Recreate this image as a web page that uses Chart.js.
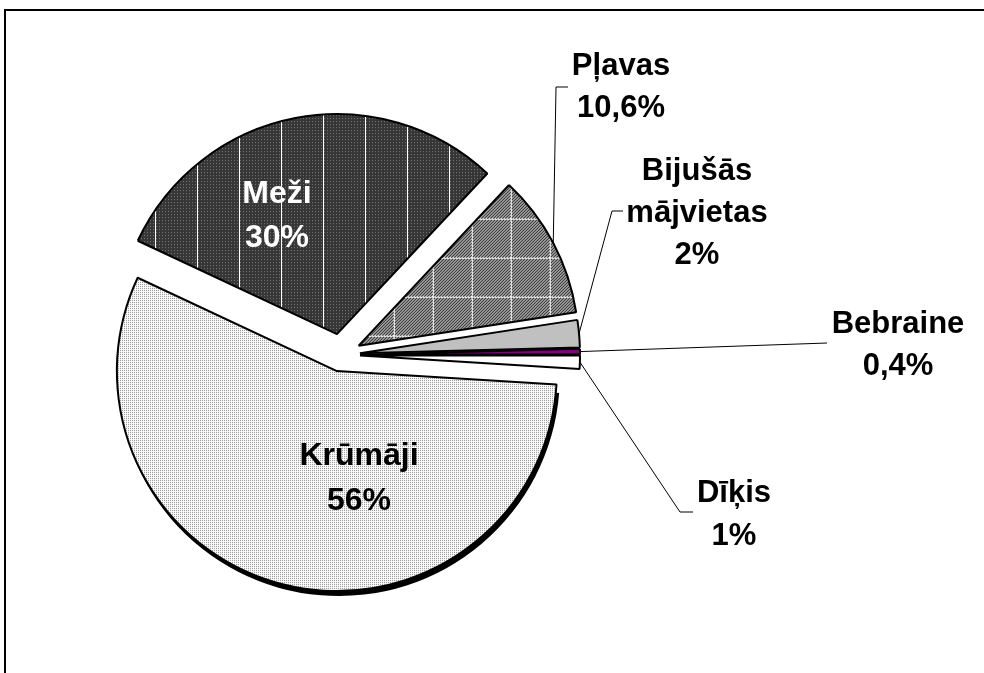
<!DOCTYPE html>
<html>
<head>
<meta charset="utf-8">
<script src="https://cdn.jsdelivr.net/npm/chart.js@4.4.0/dist/chart.umd.min.js"></script>
<style>
  html, body { margin: 0; padding: 0; background: #fff; }
  #wrap { position: relative; width: 984px; height: 673px; overflow: hidden; }
  #frame { position: absolute; left: 4px; top: 9px; width: 1000px; height: 700px;
           border-left: 2px solid #000; border-top: 2px solid #000; box-sizing: border-box; }
  canvas { position: absolute; left: 0; top: 0; }
</style>
</head>
<body>
<div id="wrap">
  <div id="frame"></div>
  <canvas id="c" width="984" height="673"></canvas>
</div>
<script>
// ---- data ----
const categories = ["Krūmāji", "Meži", "Pļavas", "Bijušās mājvietas", "Bebraine", "Dīķis"];
const values = [56, 30, 10.6, 2, 0.4, 1];
const valueLabels = ["56%", "30%", "10,6%", "2%", "0,4%", "1%"];
const labelLines = [["Krūmāji"], ["Meži"], ["Pļavas"], ["Bijušās", "mājvietas"], ["Bebraine"], ["Dīķis"]];

// ---- layout / style (not data) ----
const explodePx = [16.6, 21.3, 20, 19, 19, 19];
const labelLayout = [
  { x: 359, base: [465, 510], size: 32, color: "#000", leader: null },
  { x: 277, base: [203, 247], size: 32, color: "#fff", leader: null },
  { x: 621, base: [75, 117], size: 31, color: "#000", leader: [[556, 87], [568, 87]] },
  { x: 697, base: [180, 222, 264], size: 31, color: "#000", leader: [[612, 211], [623, 211]] },
  { x: 898, base: [333, 375], size: 31, color: "#000", leader: [[827, 343]] },
  { x: 734, base: [502, 545], size: 31, color: "#000", leader: [[680, 512], [693, 512]] }
];

function makePattern(w, h, painter) {
  const cv = document.createElement("canvas");
  cv.width = w; cv.height = h;
  const g = cv.getContext("2d");
  painter(g, w, h);
  return document.getElementById("c").getContext("2d").createPattern(cv, "repeat");
}
const patKrum = makePattern(2, 2, (g) => {
  g.fillStyle = "#fff"; g.fillRect(0, 0, 2, 2);
  g.fillStyle = "#8a8a8a"; g.fillRect(0, 0, 1, 1);
});
const patMezi = makePattern(42, 3, (g, w, h) => {
  g.fillStyle = "#363636"; g.fillRect(0, 0, w, h);
  g.fillStyle = "#7a7a7a";
  for (let x = 1; x < w; x += 3) g.fillRect(x, 1, 1, 1);
  g.fillStyle = "#fff"; g.fillRect(33, 0, 1, h);
});
const patPlav = makePattern(39, 39, (g, w, h) => {
  g.fillStyle = "#fff"; g.fillRect(0, 0, w, h);
  for (let y = 0; y < h; y++) for (let x = 0; x < w; x++) {
    const m = (x + y) % 3;
    if (m === 0) { g.fillStyle = "#000"; g.fillRect(x, y, 1, 1); }
    else if (m === 1) { g.fillStyle = "#666"; g.fillRect(x, y, 1, 1); }
  }
  g.fillStyle = "#fff"; g.fillRect(25, 0, 1, h); g.fillRect(0, 33, w, 1);
});
const colors = [patKrum, patMezi, patPlav, "#c0c0c0", "#800080", "#ffffff"];

let chartRef = null;
function explodeOf(el) {
  if (!chartRef) return 0;
  const i = chartRef.getDatasetMeta(0).data.indexOf(el);
  return i >= 0 ? explodePx[i] : 0;
}
// translate each slice outwards along its bisector (exploded pie)
const origArcDraw = Chart.ArcElement.prototype.draw;
Chart.ArcElement.prototype.draw = function (ctx) {
  const d = explodeOf(this);
  const mid = (this.startAngle + this.endAngle) / 2;
  ctx.save();
  ctx.translate(Math.cos(mid) * d, Math.sin(mid) * d);
  origArcDraw.call(this, ctx);
  ctx.restore();
};

const shadowPlugin = {
  id: "shadow",
  beforeDatasetsDraw(chart) {
    const el = chart.getDatasetMeta(0).data[0];
    const ctx = chart.ctx;
    const mid = (el.startAngle + el.endAngle) / 2;
    const t = explodePx[0];
    const cx = el.x + Math.cos(mid) * t + 2;
    const cy = el.y + Math.sin(mid) * t + 4;
    ctx.save();
    ctx.fillStyle = "#000";
    ctx.beginPath();
    ctx.moveTo(cx, cy);
    ctx.arc(cx, cy, el.outerRadius + 1, el.startAngle + 0.02, el.endAngle - 0.03);
    ctx.closePath();
    ctx.fill();
    ctx.restore();
  }
};

const labelPlugin = {
  id: "labels",
  afterDatasetsDraw(chart) {
    const ctx = chart.ctx;
    const meta = chart.getDatasetMeta(0);
    ctx.save();
    meta.data.forEach((el, i) => {
      const L = labelLayout[i];
      if (L.leader) {
        const mid = (el.startAngle + el.endAngle) / 2;
        const r = explodePx[i] + el.outerRadius;
        const sx = el.x + Math.cos(mid) * r;
        const sy = el.y + Math.sin(mid) * r;
        ctx.strokeStyle = "#000"; ctx.lineWidth = 1;
        ctx.beginPath(); ctx.moveTo(sx, sy);
        L.leader.forEach(p => ctx.lineTo(p[0], p[1]));
        ctx.stroke();
      }
      const lines = labelLines[i].concat([valueLabels[i]]);
      ctx.font = "bold " + L.size + "px 'Liberation Sans', Arial, sans-serif";
      ctx.fillStyle = L.color;
      ctx.textAlign = "center";
      ctx.textBaseline = "alphabetic";
      lines.forEach((s, k) => ctx.fillText(s, L.x, L.base[k]));
    });
    ctx.restore();
  }
};

chartRef = new Chart(document.getElementById("c"), {
  type: "pie",
  data: {
    labels: categories,
    datasets: [{
      data: values,
      backgroundColor: colors,
      borderColor: "#000",
      borderWidth: 2,
      offset: 0,
      radius: 220
    }]
  },
  options: {
    responsive: false,
    animation: false,
    rotation: 93.5,
    layout: { padding: { left: 0, right: 302, top: 37, bottom: 0 } },
    plugins: { legend: { display: false }, tooltip: { enabled: false } },
    events: []
  },
  plugins: [shadowPlugin, labelPlugin]
});
chartRef.draw();
</script>
</body>
</html>
